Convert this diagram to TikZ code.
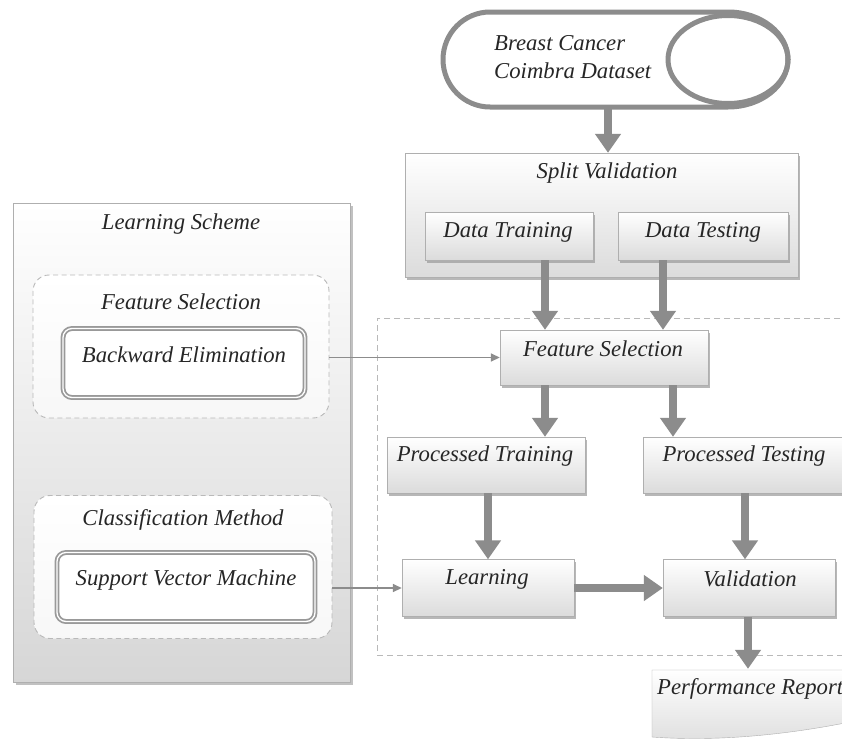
\documentclass[tikz,border=0pt]{standalone}
\usepackage{fontspec}
\setmainfont{Liberation Serif}
\usetikzlibrary{arrows.meta,shadows,calc}
\definecolor{arr}{RGB}{140,140,140}
\definecolor{edge}{RGB}{175,175,175}
\begin{document}
\begin{tikzpicture}[x=1pt,y=-1pt,
  lbl/.style={font=\fontsize{22.7}{28}\selectfont\itshape, text=black!85, inner sep=0pt},
  box/.style={draw=edge, top color=white, bottom color=gray!28, inner sep=0pt,
     drop shadow={shadow xshift=1.5pt, shadow yshift=-2.5pt, fill=gray!80, opacity=0.7}},
  panel/.style={draw=edge, top color=white, bottom color=gray!32, inner sep=0pt,
     drop shadow={shadow xshift=2pt, shadow yshift=-3pt, fill=gray!80, opacity=0.6}},
  dbox/.style={draw=gray!55, dashed, dash pattern=on 5pt off 3.5pt, line width=0.9pt,
     rounded corners=16pt, top color=white, bottom color=gray!6, inner sep=0pt},
  inbox/.style={draw=gray!80, line width=1.8pt, double=white, double distance=1.3pt,
     rounded corners=9pt, fill=white, inner sep=0pt},
  bigarrow/.style={draw=arr, line width=8.5pt, -{Triangle[width=25pt,length=19pt]}},
  thinarrow/.style={draw=arr, line width=1.6pt, -{Triangle[width=8pt,length=9pt]}},
  ghost/.style={inner sep=0pt, minimum size=0pt}
]
\useasboundingbox (0,0) rectangle (842,739);
\fill[white] (0,0) rectangle (842,739);
\clip (0,0) rectangle (842,739);

% ---------- Learning scheme panel ----------
\node[panel, minimum width=337pt, minimum height=479pt] (ls) at (182,442.5) {};
\node[lbl] (lsT) at (181,224) {Learning Scheme};

\node[dbox, minimum width=296pt, minimum height=143pt] (fsg) at (181,346.5) {};
\node[lbl] (fsgT) at (181,302) {Feature Selection};
\node[inbox, minimum width=242pt, minimum height=69pt] (be) at (184,363) {};
\node[lbl] (beT) at (184,355) {Backward Elimination};

\node[dbox, minimum width=298pt, minimum height=143pt] (cmg) at (183,567) {};
\node[lbl] (cmgT) at (183,520) {Classification Method};
\node[inbox, minimum width=258pt, minimum height=69pt] (svm) at (186,587) {};
\node[lbl] (svmT) at (186,580) {Support Vector Machine};

% ---------- Dataset cylinder ----------
\node[ghost, minimum width=345pt, minimum height=95pt] (ds) at (615.5,59.5) {};
\draw[arr, line width=5pt, fill=white]
  (728,12) -- (490,12) arc[start angle=270, end angle=90, x radius=47, y radius=47.5]
  -- (728,107) arc[start angle=90, end angle=-90, x radius=60, y radius=47.5] -- cycle;
\draw[arr, line width=5pt] (728,59.5) ellipse[x radius=60, y radius=44];
\node[lbl, anchor=west, align=left] (dsT) at (494,57) {Breast Cancer\\Coimbra Dataset};

% ---------- Split validation ----------
\node[box, minimum width=393pt, minimum height=124pt] (sv) at (601.5,215) {};
\node[lbl] (svT) at (607,173) {Split Validation};
\node[box, minimum width=168pt, minimum height=48pt] (dtr) at (509,236) {};
\node[lbl] (dtrT) at (508,232) {Data Training};
\node[box, minimum width=170pt, minimum height=48pt] (dte) at (703,236) {};
\node[lbl] (dteT) at (703,232) {Data Testing};

% ---------- Dashed processing area ----------
\node[draw=gray!55, dashed, dash pattern=on 6pt off 4pt, line width=0.9pt,
      minimum width=483pt, minimum height=337pt, inner sep=0pt] (proc) at (618.5,486.5) {};

\node[box, minimum width=208pt, minimum height=55pt] (fs) at (604,357.5) {};
\node[lbl] (fsT) at (603,349) {Feature Selection};

\node[box, minimum width=198pt, minimum height=56pt] (ptr) at (486,465) {};
\node[lbl] (ptrT) at (485,456) {Processed Training};
\node[box, minimum width=210pt, minimum height=56pt] (pte) at (748,465) {};
\node[lbl] (pteT) at (744,456) {Processed Testing};

\node[box, minimum width=172pt, minimum height=57pt] (lrn) at (488,588) {};
\node[lbl] (lrnT) at (487,579) {Learning};
\node[box, minimum width=172pt, minimum height=57pt] (val) at (749,588) {};
\node[lbl] (valT) at (750,579) {Validation};

% ---------- Performance report ----------
\draw[edge, top color=white, bottom color=gray!25]
  (652,670) -- (850,670) -- (850,722) .. controls (790,734) and (720,742) .. (652,737) -- cycle;
\node[ghost] (pr) at (748,669) {};
\node[lbl, anchor=west] (prT) at (657,689) {Performance Report};

% ---------- helper columns ----------
\coordinate (c545) at (545,0);
\coordinate (c663) at (663,0);
\coordinate (c673) at (673,0);
\coordinate (c488) at (488,0);
\coordinate (c745) at (745,0);
\coordinate (c608) at (608,0);

% ---------- connectors ----------
\draw[bigarrow] (ds.south -| c608) -- (sv.north -| c608);
\draw[bigarrow] (dtr.south -| c545) -- (fs.north -| c545);
\draw[bigarrow] (dte.south -| c663) -- (fs.north -| c663);
\draw[bigarrow] (fs.south -| c545) -- (ptr.north -| c545);
\draw[bigarrow] (fs.south -| c673) -- (pte.north -| c673);
\draw[bigarrow] (ptr.south -| c488) -- (lrn.north -| c488);
\draw[bigarrow] (pte.south -| c745) -- (val.north -| c745);
\draw[bigarrow] (lrn.east) -- (val.west);
\draw[bigarrow] (val.south -| pr) -- (pr);

\draw[thinarrow] (fsg.east |- fs.west) -- (fs.west);
\draw[thinarrow] (cmg.east |- lrn.west) -- (lrn.west);
\end{tikzpicture}
\end{document}
